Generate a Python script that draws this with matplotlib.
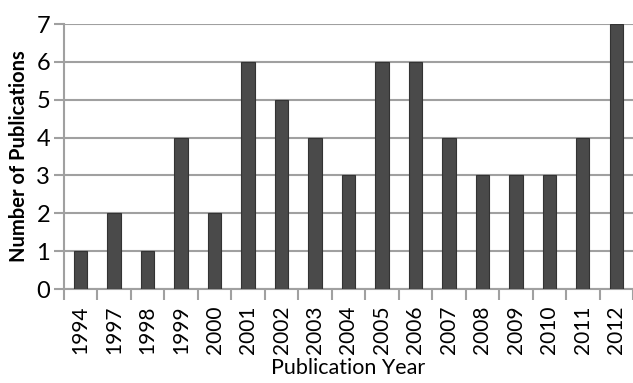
import matplotlib
matplotlib.use("Agg")
import matplotlib.pyplot as plt
import numpy as np

years = ["1994", "1997", "1998", "1999", "2000", "2001", "2002", "2003", "2004",
         "2005", "2006", "2007", "2008", "2009", "2010", "2011", "2012"]
counts = [1, 2, 1, 4, 2, 6, 5, 4, 3, 6, 6, 4, 3, 3, 3, 4, 7]

plt.rcParams['font.family'] = ['Lato', 'DejaVu Sans']

fig = plt.figure(figsize=(6.33, 3.83), dpi=100)
ax = fig.add_axes([0.101, 0.2454, 0.899, 0.6916])

x = np.arange(len(years))
ax.bar(x, counts, width=0.4, color="#4a4a4a", edgecolor="#333333", linewidth=0.8, zorder=3)

ax.set_xlim(-0.5, len(years) - 0.5)
ax.set_ylim(0, 7)
ax.set_yticks(range(0, 8))
ax.yaxis.grid(True, color="#a0a0a0", linewidth=1.5, zorder=0)
ax.set_axisbelow(True)

boundaries = np.arange(-0.5, len(years))
ax.set_xticks(boundaries, labels=[""] * len(boundaries))
ax.set_xticks(x, labels=years, minor=True, rotation=90)
ax.tick_params(axis='x', which='minor', length=0, labelsize=15, pad=12)
ax.tick_params(axis='x', which='major', length=8, width=1.5, color="#a0a0a0")
ax.tick_params(axis='y', length=7, width=1.5, color="#a0a0a0", labelsize=17, pad=3)

for s in ["top", "right"]:
    ax.spines[s].set_visible(False)
for s in ["left", "bottom"]:
    ax.spines[s].set_color("#a0a0a0")
    ax.spines[s].set_linewidth(1.5)

ax.set_ylabel("Number of Publications", fontsize=14.5, fontweight="bold", labelpad=5)
ax.set_xlabel("Publication Year", fontsize=15.5, labelpad=3)

fig.savefig("out.png", dpi=100)
